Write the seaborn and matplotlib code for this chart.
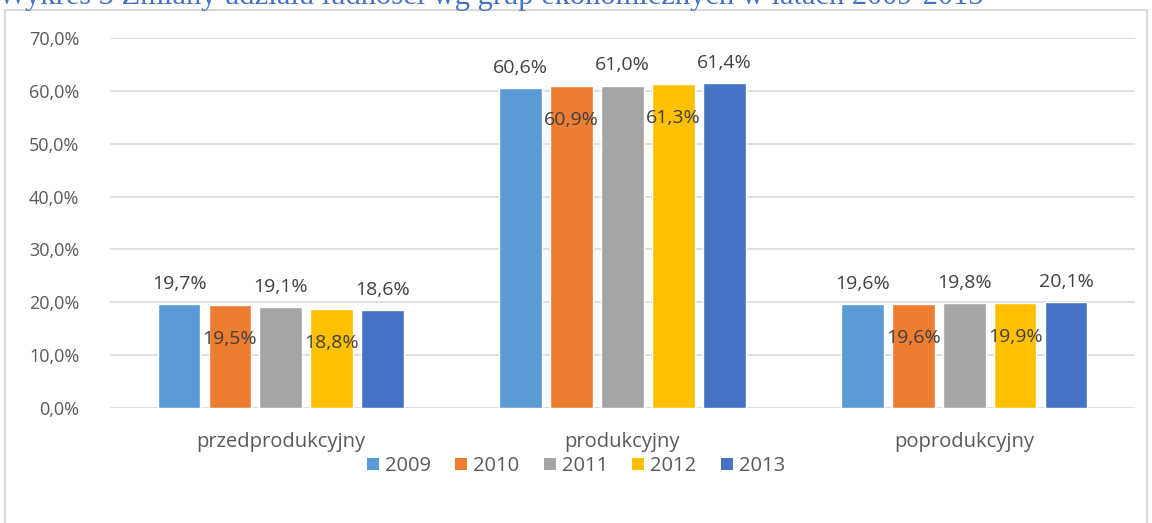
import matplotlib
matplotlib.use("Agg")
import matplotlib.pyplot as plt
import seaborn as sns
import pandas as pd
from matplotlib.patches import Rectangle, Patch

categories = ["przedprodukcyjny", "produkcyjny", "poprodukcyjny"]
years = ["2009", "2010", "2011", "2012", "2013"]
v2009 = [19.7, 60.6, 19.6]
v2010 = [19.5, 60.9, 19.6]
v2011 = [19.1, 61.0, 19.8]
v2012 = [18.8, 61.3, 19.9]
v2013 = [18.6, 61.4, 20.1]
colors = ["#5B9BD5", "#ED7D31", "#A5A5A5", "#FFC000", "#4472C4"]
yticks = [0, 10, 20, 30, 40, 50, 60, 70]

series = [v2009, v2010, v2011, v2012, v2013]
rows = []
for y, vals in zip(years, series):
    for c, v in zip(categories, vals):
        rows.append({"cat": c, "year": y, "val": v})
df = pd.DataFrame(rows)

sns.set_theme(style="white")
plt.rcParams["font.family"] = ["Open Sans", "DejaVu Sans"]

fig = plt.figure(figsize=(11.52, 5.23), dpi=100)
ax = fig.add_axes([110/1152, 1 - 408/523, (1135-110)/1152, (408-38)/523])

sns.barplot(data=df, x="cat", y="val", hue="year", palette=colors,
            width=0.745, gap=0.16, ax=ax, legend=False, saturation=1)

ax.set_ylim(0, 70)
ax.set_xlim(-0.5, 2.5)
ax.set_yticks(yticks)
ax.set_yticklabels([f"{t:.1f}%".replace(".", ",") for t in yticks],
                   color="#595959", fontsize=13)
ax.tick_params(axis="x", colors="#595959", labelsize=14.5, length=0, pad=17)
ax.tick_params(axis="y", length=0, pad=22)
ax.set_xlabel("")
ax.set_ylabel("")
ax.yaxis.grid(True, color="#D9D9D9", linewidth=1.2)
ax.set_axisbelow(True)
for s in ax.spines.values():
    s.set_visible(False)

for i, cont in enumerate(ax.containers):
    labels = [f"{v:.1f}%".replace(".", ",") for v in cont.datavalues]
    if i % 2 == 0:
        ax.bar_label(cont, labels=labels, padding=8, color="#404040", fontsize=14)
    else:
        ax.bar_label(cont, labels=labels, padding=-31, color="#404040", fontsize=14)

handles = [Patch(facecolor=c, edgecolor="none") for c in colors]
fig.legend(handles, years, loc="center", bbox_to_anchor=(0.5, 1 - 466/523),
           ncol=5, frameon=False, fontsize=14.5, handlelength=0.6, handleheight=0.6,
           handletextpad=0.3, columnspacing=1.2, labelcolor="#595959")

fig.patches.append(Rectangle((5/1152, -0.1), (1147-5)/1152, 1.1 - 10/523,
                             transform=fig.transFigure, fill=False,
                             edgecolor="#D9D9D9", linewidth=1.5))

fig.text(-0.002, 1 + 4/523, "Wykres 3 Zmiany udziału ludności wg grup ekonomicznych w latach 2009-2013",
         family=["Liberation Serif", "DejaVu Serif"], fontsize=22, color="#4472C4",
         ha="left", va="center")

fig.savefig("out.png", dpi=100)
